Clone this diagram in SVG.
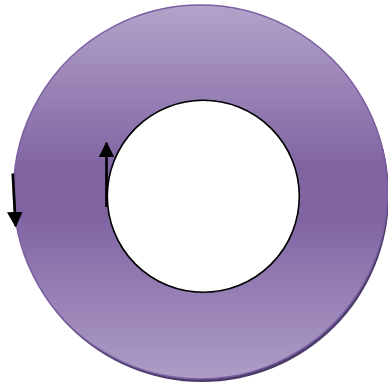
<svg xmlns="http://www.w3.org/2000/svg" width="388" height="387" viewBox="0 0 388 387">
<defs>
<linearGradient id="ringGrad" x1="0" y1="0" x2="0" y2="1">
<stop offset="0" stop-color="#b3a3ca"/>
<stop offset="0.44" stop-color="#8064a2"/>
<stop offset="0.56" stop-color="#8064a2"/>
<stop offset="1" stop-color="#ae9dc7"/>
</linearGradient>
<marker id="arrow" viewBox="0 0 10 10" refX="9" refY="5" markerWidth="5.8" markerHeight="5.8" orient="auto" markerUnits="strokeWidth">
<path d="M0,0 L10,5 L0,10 Z" fill="#000"/>
</marker>
<style>
.conn{stroke:#000;stroke-width:2.7;fill:none;}
</style>
</defs>
<g id="ring">
<circle cx="202" cy="195" r="187" fill="#4b3b6a"/>
<path d="M200.5,5 a187,187 0 1,0 0.01,0 Z M203.3,100.3 a96,96 0 1,1 -0.01,0 Z" fill="url(#ringGrad)" fill-rule="evenodd" stroke="#7b5fa1" stroke-width="1.5"/>
</g>
<g id="hole">
<circle cx="203.3" cy="196.3" r="96" fill="#fff" stroke="#000" stroke-width="1.6"/>
</g>
<g id="connectors">
<line class="conn" x1="12.8" y1="173.5" x2="15.6" y2="226" marker-end="url(#arrow)"/>
<line class="conn" x1="106.5" y1="207" x2="106.5" y2="143" marker-end="url(#arrow)"/>
</g>
</svg>
